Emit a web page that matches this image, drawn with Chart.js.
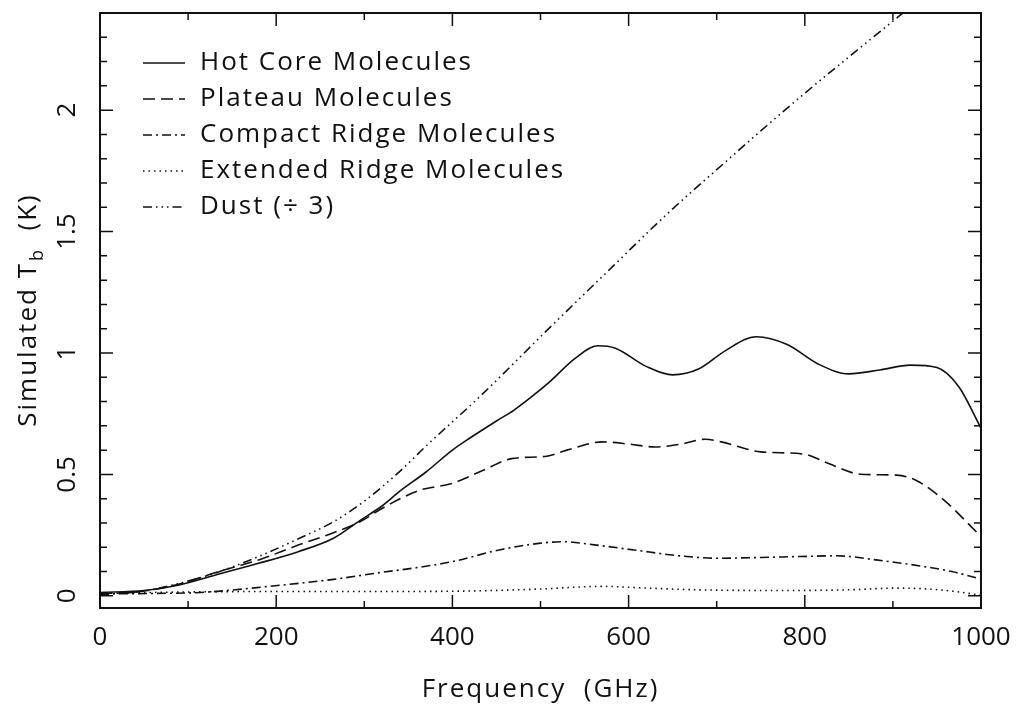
<!DOCTYPE html>
<html>
<head>
<meta charset="utf-8">
<script src="https://cdn.jsdelivr.net/npm/chart.js@4.4.1/dist/chart.umd.min.js"></script>
<style>
  html, body { margin: 0; padding: 0; background: #fff; }
  #wrap { width: 1019px; height: 708px; }
</style>
</head>
<body>
<div id="wrap"><canvas id="tbChart" width="1019" height="708"></canvas></div>
<script>
// values (frequency in GHz, simulated Tb in K)
const hotCoreFreq = [0, 50, 90, 135, 180, 225, 265, 295, 320, 340, 370, 400, 420, 450, 470, 490, 510, 540, 565, 585, 620, 650, 680, 710, 745, 780, 815, 850, 885, 920, 950, 975, 1000];
const hotCoreTb = [0.014, 0.022, 0.045, 0.09, 0.134, 0.182, 0.237, 0.31, 0.37, 0.43, 0.51, 0.60, 0.65, 0.72, 0.765, 0.82, 0.88, 0.98, 1.03, 1.02, 0.945, 0.91, 0.935, 1.01, 1.067, 1.035, 0.955, 0.914, 0.93, 0.95, 0.94, 0.86, 0.69];

const plateauFreq = [0, 50, 90, 135, 180, 225, 265, 295, 322, 363, 400, 435, 467, 507, 530, 570, 600, 630, 660, 687, 705, 750, 800, 827, 863, 904, 926, 958, 1000];
const plateauTb = [0.008, 0.02, 0.049, 0.10, 0.148, 0.209, 0.26, 0.305, 0.364, 0.435, 0.463, 0.517, 0.565, 0.575, 0.60, 0.634, 0.625, 0.613, 0.625, 0.645, 0.634, 0.593, 0.583, 0.545, 0.501, 0.497, 0.476, 0.394, 0.244];

const compactFreq = [0, 60, 114, 189, 265, 318, 363, 400, 453, 498, 525, 561, 606, 660, 701, 750, 795, 836, 881, 931, 967, 1000];
const compactTb = [0.008, 0.010, 0.014, 0.038, 0.068, 0.096, 0.118, 0.141, 0.189, 0.216, 0.223, 0.21, 0.189, 0.164, 0.155, 0.158, 0.162, 0.165, 0.148, 0.123, 0.10, 0.069];

const extendedFreq = [0, 100, 200, 318, 420, 498, 570, 620, 678, 768, 850, 904, 940, 971, 1000];
const extendedTb = [0.01, 0.016, 0.018, 0.018, 0.02, 0.028, 0.039, 0.032, 0.025, 0.022, 0.025, 0.032, 0.028, 0.018, 0.002];

const dustFreq = [0, 50, 91, 136, 182, 227, 265, 300, 341, 371, 431, 507, 583, 640, 711, 787, 908, 1000];
const dustTb = [0.004, 0.02, 0.052, 0.10, 0.165, 0.238, 0.305, 0.39, 0.515, 0.62, 0.82, 1.092, 1.36, 1.56, 1.79, 2.03, 2.39, 2.66];

const seriesNames = ['Hot Core Molecules', 'Plateau Molecules', 'Compact Ridge Molecules', 'Extended Ridge Molecules', 'Dust (\u00f7 3)'];

const xMajorTicks = [0, 200, 400, 600, 800, 1000];
const xMinorTicks = [100, 300, 500, 700, 900];
const yMajorTicks = [0, 0.5, 1, 1.5, 2];
const yMinorTicks = [0.1, 0.2, 0.3, 0.4, 0.6, 0.7, 0.8, 0.9, 1.1, 1.2, 1.3, 1.4, 1.6, 1.7, 1.8, 1.9, 2.1, 2.2, 2.3];

const FONT = '"Open Sans", "DejaVu Sans", sans-serif';
const INK = '#111';

function pairs(xs, ys) {
  return xs.map((x, i) => ({ x: x, y: ys[i] }));
}

function lineSet(label, xs, ys, dash) {
  return {
    label: label,
    data: pairs(xs, ys),
    borderColor: INK,
    borderWidth: 1.6,
    borderDash: dash,
    pointRadius: 0,
    fill: false,
    cubicInterpolationMode: 'monotone'
  };
}

// frame, inward ticks, rotated y labels, axis titles and the legend box
const framePlugin = {
  id: 'frame',
  afterDraw(chart) {
    const ctx = chart.ctx;
    const a = chart.chartArea;
    const xs = chart.scales.x;
    const ys = chart.scales.y;
    ctx.save();
    ctx.strokeStyle = INK;
    ctx.lineWidth = 2;
    ctx.strokeRect(a.left, a.top, a.right - a.left, a.bottom - a.top);

    ctx.lineWidth = 1.5;
    ctx.beginPath();
    xMajorTicks.concat(xMinorTicks).forEach(v => {
      const len = xMajorTicks.includes(v) ? 13 : 7;
      const px = xs.getPixelForValue(v);
      ctx.moveTo(px, a.bottom); ctx.lineTo(px, a.bottom - len);
      ctx.moveTo(px, a.top); ctx.lineTo(px, a.top + len);
    });
    yMajorTicks.concat(yMinorTicks).forEach(v => {
      const len = yMajorTicks.includes(v) ? 13 : 7;
      const py = ys.getPixelForValue(v);
      ctx.moveTo(a.left, py); ctx.lineTo(a.left + len, py);
      ctx.moveTo(a.right, py); ctx.lineTo(a.right - len, py);
    });
    ctx.stroke();

    // y tick labels, rotated like the original
    ctx.fillStyle = INK;
    ctx.font = '26px ' + FONT;
    ctx.textAlign = 'center';
    ctx.textBaseline = 'middle';
    yMajorTicks.forEach(v => {
      ctx.save();
      ctx.translate(68, ys.getPixelForValue(v));
      ctx.rotate(-Math.PI / 2);
      ctx.fillText(String(v), 0, 0);
      ctx.restore();
    });

    ctx.letterSpacing = '2px';

    // x title
    ctx.textAlign = 'center';
    ctx.textBaseline = 'middle';
    ctx.fillText('Frequency  (GHz)', (a.left + a.right) / 2, 690);

    // y title with subscript b
    const main1 = 'Simulated T';
    const sub = 'b';
    const main2 = '  (K)';
    ctx.save();
    ctx.translate(27, (a.top + a.bottom) / 2);
    ctx.rotate(-Math.PI / 2);
    ctx.textAlign = 'left';
    ctx.textBaseline = 'alphabetic';
    ctx.font = '26px ' + FONT;
    const w1 = ctx.measureText(main1).width;
    const w3 = ctx.measureText(main2).width;
    ctx.font = '18px ' + FONT;
    const w2 = ctx.measureText(sub).width;
    const x0 = -(w1 + w2 + w3) / 2;
    const base = 9;
    ctx.font = '26px ' + FONT;
    ctx.fillText(main1, x0, base);
    ctx.font = '18px ' + FONT;
    ctx.fillText(sub, x0 + w1 + 1, base + 7);
    ctx.font = '26px ' + FONT;
    ctx.fillText(main2, x0 + w1 + w2 + 1, base);
    ctx.restore();

    // legend in the upper left of the plot
    ctx.font = '26px ' + FONT;
    ctx.textAlign = 'left';
    ctx.textBaseline = 'middle';
    chart.data.datasets.forEach((ds, i) => {
      const y = 63 + i * 36;
      ctx.beginPath();
      ctx.lineWidth = 1.6;
      ctx.setLineDash(ds.borderDash || []);
      ctx.moveTo(143, y);
      ctx.lineTo(185, y);
      ctx.stroke();
      ctx.setLineDash([]);
      ctx.fillText(ds.label, 200, y);
    });
    ctx.restore();
  }
};

const ctx = document.getElementById('tbChart').getContext('2d');
new Chart(ctx, {
  type: 'line',
  data: {
    datasets: [
      lineSet(seriesNames[0], hotCoreFreq, hotCoreTb, []),
      lineSet(seriesNames[1], plateauFreq, plateauTb, [12, 6]),
      lineSet(seriesNames[2], compactFreq, compactTb, [9, 4, 2, 4]),
      lineSet(seriesNames[3], extendedFreq, extendedTb, [1.5, 4]),
      lineSet(seriesNames[4], dustFreq, dustTb, [9, 4, 1.5, 4, 1.5, 4, 1.5, 4])
    ]
  },
  options: {
    responsive: false,
    animation: false,
    devicePixelRatio: 1,
    layout: { padding: { top: 13, right: 38, left: 0, bottom: 0 } },
    plugins: {
      legend: { display: false },
      tooltip: { enabled: false }
    },
    scales: {
      x: {
        type: 'linear',
        min: 0,
        max: 1000,
        afterBuildTicks: s => { s.ticks = xMajorTicks.map(v => ({ value: v })); },
        afterFit: s => { s.height = 100; s.paddingLeft = 0; s.paddingRight = 0; },
        grid: { display: false, drawTicks: false },
        border: { display: false },
        ticks: {
          autoSkip: false,
          maxRotation: 0,
          padding: 14,
          color: INK,
          font: { family: FONT, size: 26 },
          callback: v => String(v)
        },
        title: { display: false }
      },
      y: {
        type: 'linear',
        min: -0.05,
        max: 2.4,
        afterFit: s => { s.width = 100; },
        grid: { display: false, drawTicks: false },
        border: { display: false },
        ticks: { display: false }
      }
    }
  },
  plugins: [framePlugin]
});
</script>
</body>
</html>
